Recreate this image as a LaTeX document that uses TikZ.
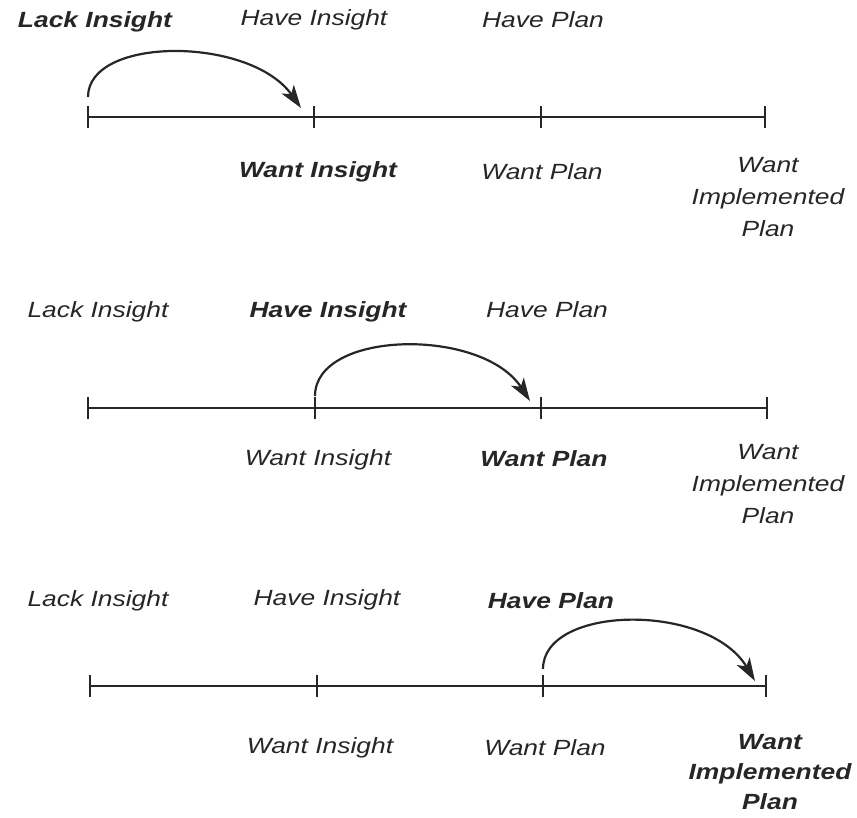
\documentclass[tikz,border=0pt]{standalone}
\usepackage{fontspec}
\setmainfont{Liberation Sans}[FakeStretch=1.2]
\usetikzlibrary{arrows.meta}
\definecolor{ink}{HTML}{262626}
\tikzset{
  lbl/.style={font=\fontsize{22}{32}\selectfont\itshape, text=ink, inner sep=0pt, align=center},
  blbl/.style={lbl, font=\fontsize{22}{30}\selectfont\itshape\bfseries},
  axis/.style={draw=ink, line width=2.4pt},
  tick/.style={draw=ink, line width=2pt},
  jump/.style={draw=ink, line width=2.2pt, -{Stealth[length=23pt,width=15pt,inset=6pt]}}
}
\begin{document}
\begin{tikzpicture}[x=1pt,y=-1pt]
\useasboundingbox (0,0) rectangle (857,818);
% ---------- panel 1 ----------
\coordinate (a1) at (88,117); \coordinate (b1) at (314,117);
\coordinate (c1) at (541,117); \coordinate (d1) at (765,117);
\draw[axis] (a1) -- (d1);
\foreach \p in {a1,b1,c1,d1} \draw[tick] ([yshift=-11pt]\p) -- ([yshift=11pt]\p);
\coordinate (s1) at (88,97); \coordinate (e1) at (301,108);
\draw[jump] (s1) .. controls (88,36) and (250,36) .. (e1);
\node[blbl] (l1) at (95,22) {Lack Insight};
\node[lbl] (h1) at (314,20) {Have Insight};
\node[lbl] (p1) at (543,20) {Have Plan};
\node[blbl] (w1) at (318,172) {Want Insight};
\node[lbl] (wp1) at (542,172) {Want Plan};
\node[lbl] (wi1) at (768,197) {Want\\Implemented\\Plan};
% ---------- panel 2 ----------
\coordinate (a2) at (88,408); \coordinate (b2) at (315,408);
\coordinate (c2) at (541,408); \coordinate (d2) at (767,408);
\draw[axis] (a2) -- (d2);
\foreach \p in {a2,b2,c2,d2} \draw[tick] ([yshift=-11pt]\p) -- ([yshift=11pt]\p);
\coordinate (s2) at (315,396); \coordinate (e2) at (530,401);
\draw[jump] (s2) .. controls (315,330) and (482,327) .. (e2);
\node[lbl] (l2) at (98,312) {Lack Insight};
\node[blbl] (h2) at (328,312) {Have Insight};
\node[lbl] (p2) at (547,310) {Have Plan};
\node[lbl] (w2) at (318,460) {Want Insight};
\node[blbl] (wp2) at (544,459) {Want Plan};
\node[lbl] (wi2) at (768,484) {Want\\Implemented\\Plan};
% ---------- panel 3 ----------
\coordinate (a3) at (90,686); \coordinate (b3) at (317,686);
\coordinate (c3) at (543,686); \coordinate (d3) at (766,686);
\draw[axis] (a3) -- (d3);
\foreach \p in {a3,b3,c3,d3} \draw[tick] ([yshift=-11pt]\p) -- ([yshift=11pt]\p);
\coordinate (s3) at (543,669); \coordinate (e3) at (755,681);
\draw[jump] (s3) .. controls (543,605) and (708,602) .. (e3);
\node[lbl] (l3) at (98,601) {Lack Insight};
\node[lbl] (h3) at (327,600) {Have Insight};
\node[blbl] (p3) at (551,601) {Have Plan};
\node[lbl] (w3) at (320,748) {Want Insight};
\node[lbl] (wp3) at (545,748) {Want Plan};
\node[blbl] (wi3) at (770,772) {Want\\Implemented\\Plan};
\end{tikzpicture}
\end{document}
